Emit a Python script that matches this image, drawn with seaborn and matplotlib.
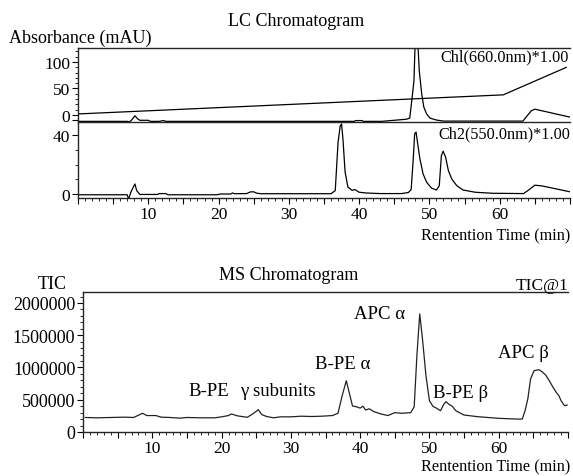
import matplotlib
matplotlib.use("Agg")
import matplotlib.pyplot as plt
import seaborn as sns
import pandas as pd
from matplotlib.ticker import MultipleLocator, FixedLocator, FuncFormatter

# ---------------- data ----------------
# LC channel 1 (660 nm)
ch1_time = [0, 7.0, 7.3, 7.6, 8.1, 8.5, 8.8, 10.0, 10.3, 11.5, 12.2, 12.5,
            39.3, 39.5, 40.4, 40.6,
            43.2, 46.7, 47.2, 47.6, 47.8, 48.0, 48.3, 48.55, 48.9, 49.2, 49.6, 50.1, 51.0, 52.0,
            63.3, 64.0, 64.5, 65.0, 66.0, 67.0, 68.0, 69.0, 70.0]
ch1_abs = [-12, -12, -13, -10, -1.5, -7.5, -10, -10, -12, -12, -10.5, -12,
           -12, -10.5, -10.5, -12,
           -12, -8, -6, 40, 65, 150, 150, 84, 40, 15, 2, -6, -9.5, -11.5,
           -11.5, 0, 8, 11, 8, 5, 2, -1, -4]

# gradient trace drawn in channel 1 panel
grad_time = [0, 60.5, 69.5]
grad_val = [2, 38, 90]

# LC channel 2 (550 nm)
ch2_time = [0, 7.0, 7.2, 7.5, 7.8, 8.1, 8.35, 8.8, 9.5, 11.3, 11.6, 12.5, 12.8,
            19.8, 20.2, 21.7, 22.0, 22.3, 24.0, 24.5, 25.0, 25.4, 26.0, 36.0,
            36.6, 37.0, 37.3, 37.5, 37.7, 38.0, 38.4, 39.0, 39.4, 40.0, 41.0,
            43.0, 46.0, 47.0, 47.4, 47.7, 47.9, 48.1, 48.3, 48.65, 49.1, 49.6,
            50.3, 51.0, 51.4, 51.7, 51.95, 52.3, 52.7, 53.2, 53.9, 54.8, 56.5,
            59.0, 63.4, 64.2, 65.0, 66.0, 67.0, 68.0, 69.0, 70.0]
ch2_abs = [-0.5, -0.5, -3.5, 1, 4, 6.8, 2.3, -0.3, -0.3, -0.3, 0.3, 0.3, -0.5,
           -0.5, 0, 0, 0.7, 0.2, 0.3, 1.4, 1.5, 0.6, 0.2, 0.2,
           2.3, 35, 46, 47.5, 37, 15, 4.7, 2.5, 3.0, 1.2, 0.7,
           0.3, 0.3, 1, 3, 24, 40.7, 42, 35, 23.7, 13.6, 8,
           4, 2.7, 5.6, 26, 29, 25, 15.8, 10, 5.6, 2.7, 1.2,
           0.5, 0.3, 3, 6, 5.5, 4.5, 3.5, 2.5, 1.5]

# MS total ion chromatogram
ms_time = [0.3, 2, 4, 6, 7.3, 8.0, 8.6, 9.2, 10.5, 11.3,
           12.5, 14, 15, 17, 19, 20.0, 21.0, 21.4, 22.3, 23.7,
           24.5, 25.3, 25.8, 26.5, 27.5, 28.5, 30, 31.5, 33, 34.5,
           36.0, 36.8, 37.4, 38.0, 38.4, 38.9, 39.5, 40.0, 40.4, 40.8,
           41.3, 42.0, 43.0, 44.0, 45.0, 46.0, 47.3, 47.8, 48.2, 48.6,
           49.0, 49.5, 50.0, 50.5, 51.0, 51.6, 52.1, 52.4, 52.8, 53.3,
           53.8, 55.0, 57.0, 60.0, 62.5, 63.4, 63.8, 64.2, 64.6, 65.1,
           65.8, 66.3, 66.8, 67.3, 67.8, 68.3, 68.7, 69.0, 69.5, 69.9]
ms_tic = [225000, 220000, 225000, 230000, 225000, 260000, 290000, 255000, 255000, 230000,
          225000, 215000, 225000, 220000, 220000, 235000, 255000, 280000, 250000, 228000,
          280000, 346000, 270000, 240000, 220000, 235000, 235000, 245000, 240000, 245000,
          255000, 290000, 560000, 795000, 620000, 403000, 390000, 370000, 400000, 340000,
          360000, 315000, 280000, 255000, 300000, 290000, 300000, 390000, 1200000, 1830000,
          1440000, 873000, 485000, 398000, 370000, 330000, 434000, 470000, 430000, 398000,
          330000, 263000, 237000, 212000, 201000, 200000, 330000, 512000, 822000, 950000,
          966000, 930000, 880000, 795000, 700000, 615000, 560000, 485000, 408000, 418000]

peak_labels = ["B-PE", "\u03b3 subunits", "B-PE \u03b1", "APC \u03b1", "B-PE \u03b2", "APC \u03b2"]

# ---------------- style ----------------
sns.set_style("ticks")
plt.rcParams["font.family"] = ["Liberation Serif", "DejaVu Serif"]
plt.rcParams["axes.linewidth"] = 1.0

W, H = 573, 477
fig = plt.figure(figsize=(W / 100, H / 100), dpi=100)


def box(x0, y0, x1, y1):
    return [x0 / W, 1 - y1 / H, (x1 - x0) / W, (y1 - y0) / H]


ax1 = fig.add_axes(box(78, 49, 570, 123))
ax2 = fig.add_axes(box(78, 123, 570, 199))
ax3 = fig.add_axes(box(83, 293, 568, 433))

df1 = pd.DataFrame({"t": ch1_time, "v": ch1_abs})
dfg = pd.DataFrame({"t": grad_time, "v": grad_val})
df2 = pd.DataFrame({"t": ch2_time, "v": ch2_abs})
df3 = pd.DataFrame({"t": ms_time, "v": ms_tic})

lw = 0.9
sns.lineplot(data=df1, x="t", y="v", ax=ax1, color="black", lw=lw)
sns.lineplot(data=dfg, x="t", y="v", ax=ax1, color="black", lw=lw)
sns.lineplot(data=df2, x="t", y="v", ax=ax2, color="black", lw=lw)
sns.lineplot(data=df3, x="t", y="v", ax=ax3, color="#222222", lw=lw)

for ax in (ax1, ax2, ax3):
    ax.set_xlabel("")
    ax.set_ylabel("")
    ax.spines["right"].set_visible(False)
    ax.spines["top"].set_visible(True)
    ax.set_xlim(0, 70)
    ax.tick_params(axis="both", which="major", direction="out", length=4, width=0.8,
                   labelsize=12.5, pad=1.5, colors="black")
    ax.tick_params(axis="both", which="minor", direction="out", length=2, width=0.7)

# top panel
ax1.set_ylim(-13.2, 126.4)
ax1.spines["bottom"].set_visible(False)
ax1.set_xticks([])
ax1.xaxis.set_minor_locator(FixedLocator([]))
ax1.yaxis.set_major_locator(FixedLocator([-10, 0, 50, 100]))
ax1.yaxis.set_major_formatter(FuncFormatter(lambda v, p: "" if v < 0 else f"{v:.0f}"))
ax1.yaxis.set_minor_locator(MultipleLocator(10))

# middle panel
ax2.set_ylim(-2.7, 48.8)
ax2.yaxis.set_major_locator(FixedLocator([0, 40]))
ax2.yaxis.set_minor_locator(MultipleLocator(10))
for ax in (ax2, ax3):
    ax.xaxis.set_major_locator(MultipleLocator(5))
    ax.xaxis.set_minor_locator(MultipleLocator(1))
    ax.xaxis.set_major_formatter(
        FuncFormatter(lambda v, p: f"{v:.0f}" if v % 10 == 0 and 0 < v < 69 else ""))

# bottom panel
ax3.set_ylim(0, 2170000)
ax3.yaxis.set_major_locator(MultipleLocator(500000))
ax3.yaxis.set_minor_locator(MultipleLocator(100000))
ax3.yaxis.set_major_formatter(FuncFormatter(lambda v, p: f"{v:.0f}"))
ax3.tick_params(axis="y", which="major", labelsize=13)


def ftext(x, y, s, size=13, ha="center", va="center"):
    fig.text(x / W, 1 - y / H, s, fontsize=size, ha=ha, va=va, color="black")


ftext(296, 21, "LC Chromatogram", 13)
ftext(9, 38, "Absorbance (mAU)", 13, ha="left")
ftext(569, 57, "Chl(660.0nm)*1.00", 11.7, ha="right")
ftext(570, 134, "Ch2(550.0nm)*1.00", 11.7, ha="right")
ftext(570, 236, "Rentention Time (min)", 11.7, ha="right")

ftext(289, 276, "MS Chromatogram", 13)
ftext(52, 285, "TIC", 13)
ftext(568, 286, "TIC@1", 12.5, ha="right")
ftext(570, 467, "Rentention Time (min)", 11.7, ha="right")

label_pos = [(209, 392), (278, 392), (343, 365), (380, 315), (461, 393), (523, 353)]
for s, (px, py) in zip(peak_labels, label_pos):
    ftext(px, py, s, 13.5)

fig.savefig("out.png", dpi=100)
